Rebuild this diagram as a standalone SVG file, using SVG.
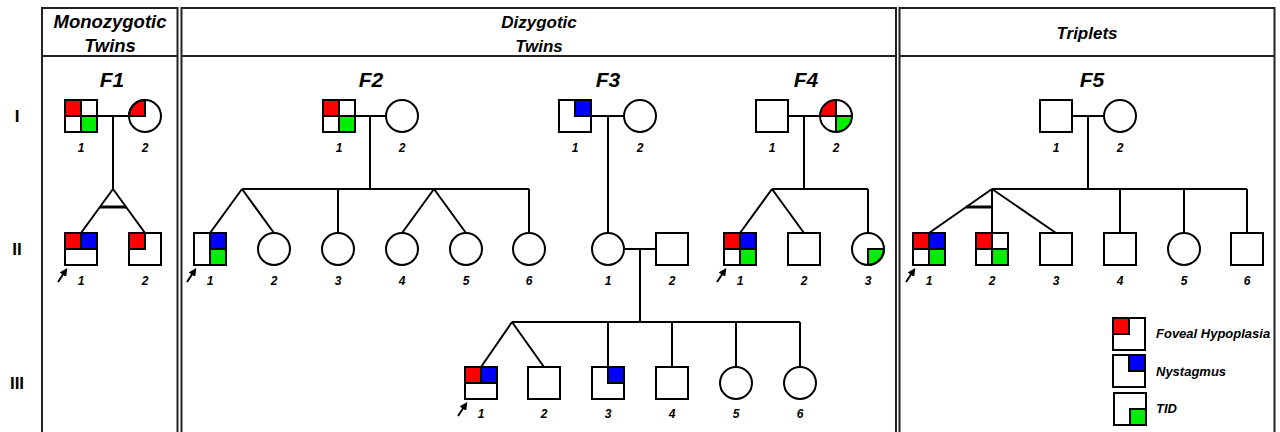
<svg xmlns="http://www.w3.org/2000/svg" width="1280" height="432" viewBox="0 0 1280 432">
<defs>
<style>
.frame{fill:none;stroke:#222;stroke-width:2}
.sym{fill:none;stroke:#000;stroke-width:2}
.ln{fill:none;stroke:#000;stroke-width:2}
.q{stroke:none}
.qb{stroke:#000;stroke-width:2}
.red{fill:#ff0000}
.blue{fill:#0000ff}
.green{fill:#00ee00}
.con{fill:none;stroke:#000;stroke-width:2}
.bar{fill:none;stroke:#000;stroke-width:3}
.arr{fill:none;stroke:#000;stroke-width:2;marker-end:url(#ah)}
.hdr{font-family:"Liberation Sans",Arial,sans-serif;font-weight:bold;font-style:italic;font-size:17px;text-anchor:middle;fill:#000}
.fam{font-family:"Liberation Sans",Arial,sans-serif;font-weight:bold;font-style:italic;font-size:21px;text-anchor:middle;fill:#000}
.num{font-family:"Liberation Sans",Arial,sans-serif;font-weight:bold;font-style:italic;font-size:12px;text-anchor:middle;fill:#000}
.gen{font-family:"Liberation Sans",Arial,sans-serif;font-weight:bold;font-size:17px;text-anchor:middle;fill:#000}
.leg{font-family:"Liberation Sans",Arial,sans-serif;font-weight:bold;font-style:italic;font-size:13px;fill:#000}
</style>
<marker id="ah" viewBox="0 0 10 10" refX="7" refY="5" markerWidth="4" markerHeight="4" orient="auto"><path d="M0 0L10 5L0 10Z" fill="#000"/></marker>
</defs>
<rect x="0" y="0" width="1280" height="432" fill="#fff"/>

<g id="frames">
<rect class="frame" x="42" y="8" width="135.5" height="440"/>
<line class="frame" x1="42" y1="56" x2="177.5" y2="56"/>
<rect class="frame" x="181.5" y="8" width="714.5" height="440"/>
<line class="frame" x1="181.5" y1="56" x2="896" y2="56"/>
<rect class="frame" x="899.5" y="8" width="375" height="440"/>
<line class="frame" x1="899.5" y1="56" x2="1274.5" y2="56"/>
</g>

<g id="headers">
<text class="hdr" x="110" y="28" style="font-size:18.5px">Monozygotic</text>
<text class="hdr" x="110" y="52" style="font-size:18.5px">Twins</text>
<text class="hdr" x="539" y="28">Dizygotic</text>
<text class="hdr" x="539" y="52">Twins</text>
<text class="hdr" x="1087" y="39">Triplets</text>
<text class="gen" x="17" y="122">I</text>
<text class="gen" x="17" y="255">II</text>
<text class="gen" x="17" y="389">III</text>
<text class="fam" x="112" y="87">F1</text>
<text class="fam" x="371" y="87">F2</text>
<text class="fam" x="608" y="87">F3</text>
<text class="fam" x="806" y="87">F4</text>
<text class="fam" x="1092" y="87">F5</text>
</g>

<g id="connectors">
<!-- F1 -->
<path class="con" d="M97 116H129M113 116V189M113 189L81 233M113 189L145 233"/>
<path class="bar" d="M100 207H126"/>
<!-- F2 -->
<path class="con" d="M355 116H386M370 116V189M242 189H529M242 189L210 233M242 189L274 233M338 189V233M434 189L402 233M434 189L466 233M529 189V233"/>
<!-- F3 -->
<path class="con" d="M591 116H624M608 116V233M624 249H656M640 249V322M512 322H800M512 322L481 367M512 322L544 367M608 322V367M672 322V367M736 322V367M800 322V367"/>
<!-- F4 -->
<path class="con" d="M788 116H820M804 116V189M772 189H868M772 189L740 233M772 189L804 233M868 189V233"/>
<!-- F5 -->
<path class="con" d="M1072 116H1104M1088 116V189M992 189H1247M992 189L929 233M992 189V233M992 189L1056 233M1120 189V233M1184 189V233M1247 189V233"/>
<path class="bar" d="M966 207H992"/>
<!-- proband arrows -->
<line class="arr" x1="58" y1="282" x2="66" y2="270"/>
<line class="arr" x1="187" y1="282" x2="195" y2="270"/>
<line class="arr" x1="717" y1="282" x2="725" y2="270"/>
<line class="arr" x1="906" y1="282" x2="914" y2="270"/>
<line class="arr" x1="458" y1="416" x2="466" y2="404"/>
</g>

<!-- F1 -->
<g id="F1-I-1"><rect class="q red" x="65" y="100" width="16" height="16"/><rect class="q green" x="81" y="116" width="16" height="16"/><rect class="sym" x="65" y="100" width="32" height="32"/><path class="ln" d="M81 100V132M65 116H97"/><text class="num" x="81" y="152">1</text></g>
<g id="F1-I-2"><path class="qb red" d="M145 116H129A16 16 0 0 1 145 100Z"/><circle class="sym" cx="145" cy="116" r="16"/><text class="num" x="145" y="152">2</text></g>
<g id="F1-II-1"><rect class="q red" x="65" y="233" width="16" height="16"/><rect class="q blue" x="81" y="233" width="16" height="16"/><rect class="sym" x="65" y="233" width="32" height="32"/><path class="ln" d="M81 233V249M65 249H97"/><text class="num" x="81" y="285">1</text></g>
<g id="F1-II-2"><rect class="qb red" x="129" y="233" width="16" height="16"/><rect class="sym" x="129" y="233" width="32" height="32"/><text class="num" x="145" y="285">2</text></g>

<!-- F2 -->
<g id="F2-I-1"><rect class="q red" x="323" y="100" width="16" height="16"/><rect class="q green" x="339" y="116" width="16" height="16"/><rect class="sym" x="323" y="100" width="32" height="32"/><path class="ln" d="M339 100V132M323 116H355"/><text class="num" x="339" y="152">1</text></g>
<g id="F2-I-2"><circle class="sym" cx="402" cy="116" r="16"/><text class="num" x="402" y="152">2</text></g>
<g id="F2-II-1"><rect class="q blue" x="210" y="233" width="16" height="16"/><rect class="q green" x="210" y="249" width="16" height="16"/><rect class="sym" x="194" y="233" width="32" height="32"/><path class="ln" d="M210 233V265M210 249H226"/><text class="num" x="210" y="285">1</text></g>
<g id="F2-II-2"><circle class="sym" cx="274" cy="249" r="16"/><text class="num" x="274" y="285">2</text></g>
<g id="F2-II-3"><circle class="sym" cx="338" cy="249" r="16"/><text class="num" x="338" y="285">3</text></g>
<g id="F2-II-4"><circle class="sym" cx="402" cy="249" r="16"/><text class="num" x="402" y="285">4</text></g>
<g id="F2-II-5"><circle class="sym" cx="466" cy="249" r="16"/><text class="num" x="466" y="285">5</text></g>
<g id="F2-II-6"><circle class="sym" cx="529" cy="249" r="16"/><text class="num" x="529" y="285">6</text></g>

<!-- F3 -->
<g id="F3-I-1"><rect class="qb blue" x="575" y="100" width="16" height="16"/><rect class="sym" x="559" y="100" width="32" height="32"/><text class="num" x="575" y="152">1</text></g>
<g id="F3-I-2"><circle class="sym" cx="640" cy="116" r="16"/><text class="num" x="640" y="152">2</text></g>
<g id="F3-II-1"><circle class="sym" cx="608" cy="249" r="16"/><text class="num" x="608" y="285">1</text></g>
<g id="F3-II-2"><rect class="sym" x="656" y="233" width="32" height="32"/><text class="num" x="672" y="285">2</text></g>
<g id="F3-III-1"><rect class="q red" x="465" y="367" width="16" height="16"/><rect class="q blue" x="481" y="367" width="16" height="16"/><rect class="sym" x="465" y="367" width="32" height="32"/><path class="ln" d="M481 367V383M465 383H497"/><text class="num" x="481" y="418">1</text></g>
<g id="F3-III-2"><rect class="sym" x="528" y="367" width="32" height="32"/><text class="num" x="544" y="418">2</text></g>
<g id="F3-III-3"><rect class="qb blue" x="608" y="367" width="16" height="16"/><rect class="sym" x="592" y="367" width="32" height="32"/><text class="num" x="608" y="418">3</text></g>
<g id="F3-III-4"><rect class="sym" x="656" y="367" width="32" height="32"/><text class="num" x="672" y="418">4</text></g>
<g id="F3-III-5"><circle class="sym" cx="736" cy="383" r="16"/><text class="num" x="736" y="418">5</text></g>
<g id="F3-III-6"><circle class="sym" cx="800" cy="383" r="16"/><text class="num" x="800" y="418">6</text></g>

<!-- F4 -->
<g id="F4-I-1"><rect class="sym" x="756" y="100" width="32" height="32"/><text class="num" x="772" y="152">1</text></g>
<g id="F4-I-2"><path class="q red" d="M836 116H820A16 16 0 0 1 836 100Z"/><path class="q green" d="M836 116H852A16 16 0 0 1 836 132Z"/><circle class="sym" cx="836" cy="116" r="16"/><path class="ln" d="M836 100V132M820 116H852"/><text class="num" x="836" y="152">2</text></g>
<g id="F4-II-1"><rect class="q red" x="724" y="233" width="16" height="16"/><rect class="q blue" x="740" y="233" width="16" height="16"/><rect class="q green" x="740" y="249" width="16" height="16"/><rect class="sym" x="724" y="233" width="32" height="32"/><path class="ln" d="M740 233V265M724 249H756"/><text class="num" x="740" y="285">1</text></g>
<g id="F4-II-2"><rect class="sym" x="788" y="233" width="32" height="32"/><text class="num" x="804" y="285">2</text></g>
<g id="F4-II-3"><path class="qb green" d="M868 249H884A16 16 0 0 1 868 265Z"/><circle class="sym" cx="868" cy="249" r="16"/><text class="num" x="868" y="285">3</text></g>

<!-- F5 -->
<g id="F5-I-1"><rect class="sym" x="1040" y="100" width="32" height="32"/><text class="num" x="1056" y="152">1</text></g>
<g id="F5-I-2"><circle class="sym" cx="1120" cy="116" r="16"/><text class="num" x="1120" y="152">2</text></g>
<g id="F5-II-1"><rect class="q red" x="913" y="233" width="16" height="16"/><rect class="q blue" x="929" y="233" width="16" height="16"/><rect class="q green" x="929" y="249" width="16" height="16"/><rect class="sym" x="913" y="233" width="32" height="32"/><path class="ln" d="M929 233V265M913 249H945"/><text class="num" x="929" y="285">1</text></g>
<g id="F5-II-2"><rect class="q red" x="976" y="233" width="16" height="16"/><rect class="q green" x="992" y="249" width="16" height="16"/><rect class="sym" x="976" y="233" width="32" height="32"/><path class="ln" d="M992 233V265M976 249H1008"/><text class="num" x="992" y="285">2</text></g>
<g id="F5-II-3"><rect class="sym" x="1040" y="233" width="32" height="32"/><text class="num" x="1056" y="285">3</text></g>
<g id="F5-II-4"><rect class="sym" x="1104" y="233" width="32" height="32"/><text class="num" x="1120" y="285">4</text></g>
<g id="F5-II-5"><circle class="sym" cx="1184" cy="249" r="16"/><text class="num" x="1184" y="285">5</text></g>
<g id="F5-II-6"><rect class="sym" x="1231" y="233" width="32" height="32"/><text class="num" x="1247" y="285">6</text></g>

<!-- Legend -->
<g id="legend-foveal"><rect class="qb red" x="1113" y="318" width="16" height="16"/><rect class="sym" x="1113" y="318" width="32" height="32"/><text class="leg" x="1156" y="338">Foveal Hypoplasia</text></g>
<g id="legend-nystagmus"><rect class="qb blue" x="1129" y="355" width="16" height="16"/><rect class="sym" x="1113" y="355" width="32" height="32"/><text class="leg" x="1156" y="376">Nystagmus</text></g>
<g id="legend-tid"><rect class="qb green" x="1130" y="409" width="16" height="16"/><rect class="sym" x="1114" y="393" width="32" height="32"/><text class="leg" x="1156" y="413">TID</text></g>
</svg>
